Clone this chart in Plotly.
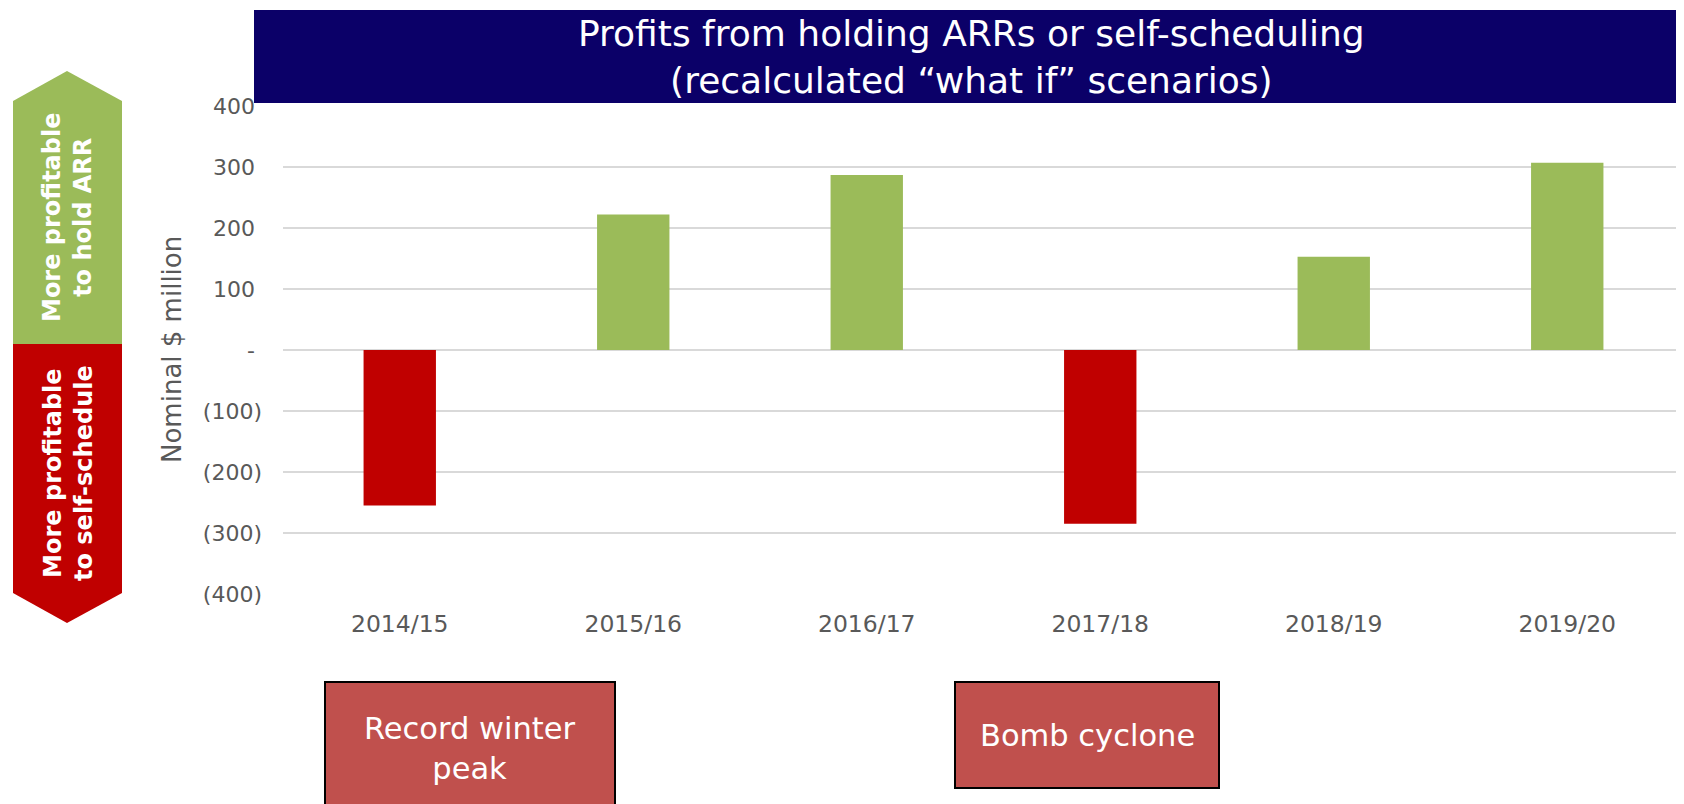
import plotly.graph_objects as go

# ---- data ----
categories = ["2014/15", "2015/16", "2016/17", "2017/18", "2018/19", "2019/20"]
profits = [-255, 222, 287, -285, 153, 307]
tick_vals = [400, 300, 200, 100, 0, -100, -200, -300, -400]
tick_text = ["400\u00a0", "300\u00a0", "200\u00a0", "100\u00a0", "-\u00a0",
             "(100)", "(200)", "(300)", "(400)"]
title_lines = ["Profits from holding ARRs or self-scheduling",
               "(recalculated \u201cwhat if\u201d scenarios)"]
event_labels = {"2014/15": "Record winter<br>peak", "2017/18": "Bomb cyclone"}
arrow_texts = ["More profitable<br>to hold ARR", "More profitable<br>to self-schedule"]

GREEN = "#9BBB59"
RED = "#C00000"
NAVY = "#0B0068"
BOXRED = "#C0504D"
GRAY = "#595959"

# page body has an 8px margin; all pixel positions below are page pixels
OFF = 8
W, H = 1684 - OFF, 804 - OFF
L, R, T, B = 283, 1684, 106, 594  # plot area in page pixels


def px(x):
    return (x - L) / (R - L)


def py(y):
    return (B - y) / (B - T)


colors = [GREEN if v >= 0 else RED for v in profits]

fig = go.Figure()
fig.add_trace(go.Bar(x=categories, y=profits, marker=dict(color=colors, line=dict(width=0)),
                     width=0.31, showlegend=False, hoverinfo="x+y"))

fig.update_layout(
    width=W, height=H,
    margin=dict(l=L - OFF, r=0, t=T - OFF, b=(H + OFF) - B, pad=0),
    paper_bgcolor="white", plot_bgcolor="white",
    font=dict(family="DejaVu Sans", color=GRAY),
)
fig.update_yaxes(range=[-400, 400], tickvals=tick_vals, ticktext=tick_text,
                 showgrid=True, gridcolor="#D9D9D9", gridwidth=2,
                 zeroline=True, zerolinecolor="#D9D9D9", zerolinewidth=2,
                 showline=False, ticks="", tickfont=dict(size=22, color=GRAY),
                 ticklabelstandoff=20)
fig.update_xaxes(showgrid=False, showline=False, ticks="",
                 tickfont=dict(size=23.5, color=GRAY), ticklabelstandoff=13)

shapes = []
annotations = []

# title box
shapes.append(dict(type="rect", xref="paper", yref="paper",
                   x0=px(254), x1=px(1682), y0=py(103), y1=py(10),
                   fillcolor=NAVY, line=dict(width=0), layer="above"))
annotations.append(dict(xref="paper", yref="paper", x=px(971), y=py(57),
                        text="<br>".join(title_lines), showarrow=False,
                        font=dict(family="DejaVu Sans", size=36, color="white"),
                        xanchor="center", yanchor="middle"))

# y axis title
annotations.append(dict(xref="paper", yref="paper", x=px(172), y=py(350),
                        text="Nominal $ million", textangle=-90, showarrow=False,
                        font=dict(family="DejaVu Sans", size=26, color=GRAY),
                        xanchor="center", yanchor="middle"))


def path(points):
    return "M " + " L ".join(f"{px(x)},{py(y)}" for x, y in points) + " Z"


# left arrows
shapes.append(dict(type="path", xref="paper", yref="paper",
                   path=path([(13, 344), (13, 101), (67, 71), (122, 101), (122, 344)]),
                   fillcolor=GREEN, line=dict(width=0)))
shapes.append(dict(type="path", xref="paper", yref="paper",
                   path=path([(13, 344), (122, 344), (122, 593), (67, 623), (13, 593)]),
                   fillcolor=RED, line=dict(width=0)))
annotations.append(dict(xref="paper", yref="paper", x=px(68), y=py(217),
                        text=arrow_texts[0], textangle=-90, showarrow=False,
                        font=dict(family="DejaVu Sans", size=24, color="white", weight="bold"),
                        xanchor="center", yanchor="middle"))
annotations.append(dict(xref="paper", yref="paper", x=px(68), y=py(473),
                        text=arrow_texts[1], textangle=-90, showarrow=False,
                        font=dict(family="DejaVu Sans", size=24, color="white", weight="bold"),
                        xanchor="center", yanchor="middle"))

# event boxes
boxes = {"2014/15": (325, 615, 682, 840, 748), "2017/18": (955, 1219, 682, 788, 735)}
for cat, (x0, x1, y0, y1, ty) in boxes.items():
    shapes.append(dict(type="rect", xref="paper", yref="paper",
                       x0=px(x0), x1=px(x1), y0=py(y1), y1=py(y0),
                       fillcolor=BOXRED, line=dict(color="black", width=2)))
    annotations.append(dict(xref="paper", yref="paper", x=px((x0 + x1) / 2), y=py(ty),
                            text=event_labels[cat], showarrow=False,
                            font=dict(family="DejaVu Sans", size=30.5, color="white"),
                            xanchor="center", yanchor="middle"))

fig.update_layout(shapes=shapes, annotations=annotations)
fig.write_html("out.html")
